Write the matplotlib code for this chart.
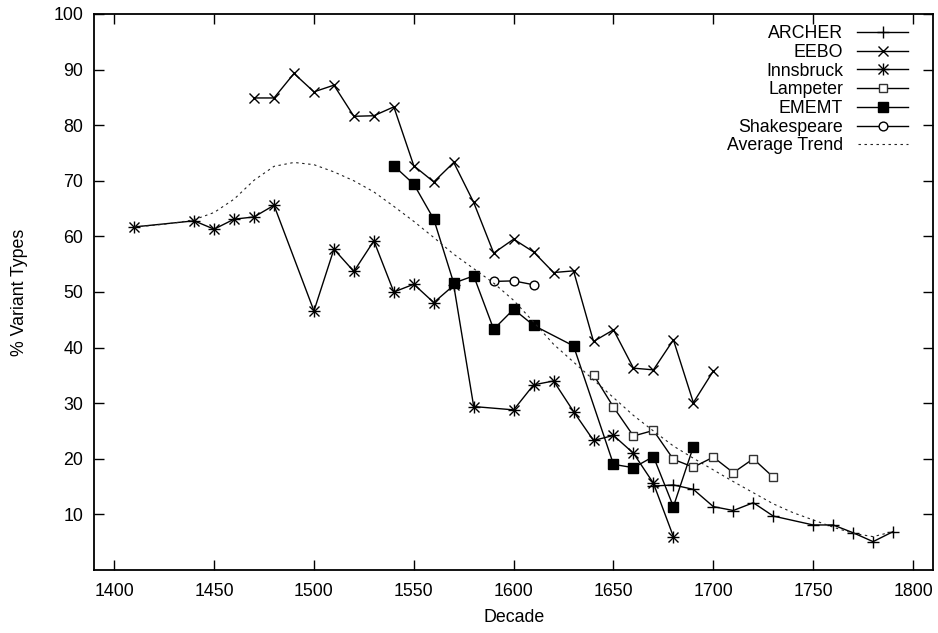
import matplotlib
matplotlib.use("Agg")
import matplotlib.pyplot as plt
from matplotlib.lines import Line2D

plt.rcParams['font.family'] = ['Liberation Sans', 'DejaVu Sans']
FS = 12.8

# ---------------- data ----------------
archer_x = [1670, 1680, 1690, 1700, 1710, 1720, 1730, 1750, 1760, 1770, 1780, 1790]
archer_y = [15.1, 15.3, 14.5, 11.4, 10.7, 12.1, 9.7, 8.1, 8.1, 6.7, 5.1, 6.9]

eebo_x = [1470, 1480, 1490, 1500, 1510, 1520, 1530, 1540, 1550, 1560, 1570, 1580,
          1590, 1600, 1610, 1620, 1630, 1640, 1650, 1660, 1670, 1680, 1690, 1700]
eebo_y = [84.9, 84.9, 89.3, 86.0, 87.2, 81.6, 81.7, 83.3, 72.7, 69.8, 73.3, 66.1,
          57.0, 59.5, 57.2, 53.5, 53.8, 41.1, 43.2, 36.3, 36.0, 41.4, 30.1, 35.8]

inns_x = [1410, 1440, 1450, 1460, 1470, 1480, 1500, 1510, 1520, 1530, 1540, 1550,
          1560, 1570, 1580, 1600, 1610, 1620, 1630, 1640, 1650, 1660, 1670, 1680]
inns_y = [61.7, 62.8, 61.3, 63.1, 63.5, 65.6, 46.6, 57.7, 53.7, 59.2, 50.0, 51.4,
          48.1, 51.2, 29.4, 28.8, 33.3, 34.0, 28.5, 23.3, 24.2, 21.0, 15.6, 6.0]

lamp_x = [1640, 1650, 1660, 1670, 1680, 1690, 1700, 1710, 1720, 1730]
lamp_y = [35.1, 29.3, 24.1, 25.1, 19.9, 18.5, 20.3, 17.5, 20.0, 16.7]

emem_x = [1540, 1550, 1560, 1570, 1580, 1590, 1600, 1610, 1630, 1650, 1660, 1670, 1680, 1690]
emem_y = [72.7, 69.4, 63.1, 51.6, 52.9, 43.3, 46.9, 44.0, 40.3, 19.0, 18.4, 20.4, 11.4, 22.2]

shak_x = [1590, 1600, 1610]
shak_y = [51.9, 52.0, 51.3]

trend_x = [1410, 1420, 1430, 1440, 1450, 1460, 1470, 1480, 1490, 1500, 1510, 1520,
           1530, 1540, 1550, 1560, 1570, 1580, 1590, 1600, 1610, 1620, 1630, 1640,
           1650, 1660, 1670, 1680, 1690, 1700, 1710, 1720, 1730, 1740, 1750, 1760,
           1770, 1780, 1790]
trend_y = [61.7, 62.0, 62.4, 63.0, 64.3, 66.7, 70.1, 72.6, 73.3, 72.9, 71.6, 70.0,
           68.0, 65.4, 62.7, 59.8, 56.8, 54.2, 51.6, 48.5, 44.6, 40.6, 37.4, 34.2,
           31.0, 27.8, 25.0, 22.3, 20.1, 18.0, 15.9, 13.9, 11.9, 10.3, 9.0, 7.7,
           6.6, 6.0, 6.9]

labels = ['ARCHER', 'EEBO', 'Innsbruck', 'Lampeter', 'EMEMT', 'Shakespeare', 'Average Trend']
xticks = [1400, 1450, 1500, 1550, 1600, 1650, 1700, 1750, 1800]
yticks = [10, 20, 30, 40, 50, 60, 70, 80, 90, 100]

# ---------------- figure ----------------
W, H = 938, 633
fig = plt.figure(figsize=(W / 100, H / 100), dpi=100)
ax = fig.add_axes([94.3 / W, 1 - 570 / H, (933 - 94.3) / W, (570 - 14) / H])

lw = 1.0
mew = 1.0
DOT = dict(color='#222222', lw=0.8, ls=(0, (2.2, 3.2)))
styles = [
    dict(marker='+', ms=9, mew=mew),
    dict(marker='x', ms=7, mew=mew),
    None,
    dict(marker='s', ms=6.3, mew=mew, mfc='white'),
    dict(marker='s', ms=6.5, mew=mew, mfc='black'),
    dict(marker='o', ms=6.3, mew=mew, mfc='white'),
]

ax.plot(archer_x, archer_y, color='black', lw=lw, **styles[0])
ax.plot(eebo_x, eebo_y, color='black', lw=lw, **styles[1])
ax.plot(inns_x, inns_y, color='black', lw=lw, marker='+', ms=9, mew=mew)
ax.plot(inns_x, inns_y, color='black', lw=0, marker='x', ms=7, mew=mew)
ax.plot(lamp_x, lamp_y, color='black', lw=lw, mec='#333333', **styles[3])
ax.plot(emem_x, emem_y, color='black', lw=lw, **styles[4])
ax.plot(shak_x, shak_y, color='black', lw=lw, **styles[5])
ax.plot(trend_x, trend_y, **DOT)

ax.set_xlim(1390, 1810)
ax.set_ylim(0, 100)
ax.set_xticks(xticks)
ax.set_yticks(yticks)
ax.tick_params(direction='in', length=7, width=1.0, top=True, right=True,
               labelsize=FS)
ax.tick_params(axis='x', pad=9)
ax.tick_params(axis='y', pad=8)
for s in ax.spines.values():
    s.set_linewidth(1.3)

fig.text(514 / W, 1 - 617 / H, 'Decade', ha='center', va='center', fontsize=FS)
fig.text(19 / W, 1 - 292 / H, '% Variant Types', ha='center', va='center',
         rotation=90, fontsize=FS)

# ---------------- legend (manual, gnuplot style) ----------------
row0, dy = 32.0, 18.7
for i, lab in enumerate(labels):
    yc = row0 + i * dy
    fig.text(843 / W, 1 - (yc + 6.3) / H, lab, ha='right', va='baseline', fontsize=FS)
    yf = 1 - yc / H
    if i == 6:
        fig.add_artist(Line2D([858 / W, 908 / W], [yf, yf],
                              transform=fig.transFigure, **DOT))
        continue
    fig.add_artist(Line2D([857 / W, 908 / W], [yf, yf], color='black', lw=lw,
                          transform=fig.transFigure))
    if i == 2:
        mk = [dict(marker='+', ms=9, mew=mew), dict(marker='x', ms=7, mew=mew)]
    else:
        mk = [dict(styles[i])]
        if i == 3:
            mk[0]['mec'] = '#333333'
    for m in mk:
        fig.add_artist(Line2D([882.5 / W], [yf], color='black', lw=0,
                              transform=fig.transFigure, **m))

fig.savefig('out.png', dpi=100)
